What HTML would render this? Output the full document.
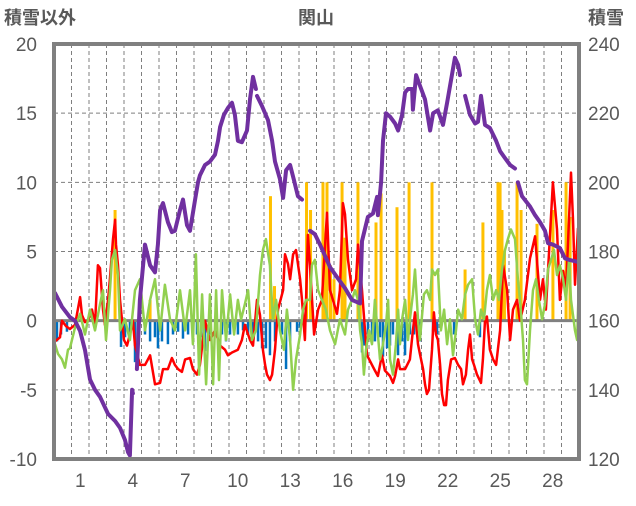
<!DOCTYPE html>
<html><head><meta charset="utf-8">
<style>
html,body{margin:0;padding:0;background:#fff;}
body{width:636px;height:501px;overflow:hidden;font-family:"Liberation Sans","Noto Sans CJK JP",sans-serif;}
svg text{font-family:"Liberation Sans","Noto Sans CJK JP",sans-serif;fill:#595959;}
</style></head>
<body>
<svg id="chart" width="636" height="501" xmlns="http://www.w3.org/2000/svg">
<text x="4" y="24" font-size="18" font-weight="bold">積雪以外</text>
<text x="316" y="24" font-size="18" font-weight="bold" text-anchor="middle">関山</text>
<text x="588" y="24" font-size="18" font-weight="bold">積雪</text>
<g id="grid"></g><g id="bars"></g><g id="lines"></g><g id="axes"></g>
</svg>
<script>
const leftTicks=[-10,-5,0,5,10,15,20];
const rightTicks=[120,140,160,180,200,220,240];
const dayLabels=[1,4,7,10,13,16,19,22,25,28];
const depthT=[0,.06,.46,.91,1.2,1.49,1.77,2.06,2.34,2.63,3.09,3.49,3.77,4.06,4.23,4.34,4.46,4.51,null,4.74,4.91,5.2,5.49,5.77,5.94,6.06,6.23,6.51,6.74,6.91,7.2,7.37,7.6,7.77,8.06,8.23,8.34,8.63,8.91,9.2,9.37,9.49,9.71,9.94,10.17,10.34,10.51,10.74,11.03,11.2,11.37,11.54,null,11.6,11.89,12.23,12.46,12.63,12.91,13.09,13.26,13.49,13.71,13.94,14.17,null,14.63,14.91,15.2,15.77,16.17,16.63,17.03,17.49,17.6,17.94,18.23,18.46,18.51,18.69,18.8,18.97,19.2,19.49,19.66,19.89,20.06,20.23,20.46,20.51,20.69,20.91,21.2,21.49,21.66,21.94,22.23,22.46,22.74,22.91,23.09,23.2,null,23.49,23.77,24.06,24.23,24.4,24.63,24.91,25.26,25.49,25.77,26.06,26.34,null,26.51,26.74,27.2,27.49,27.77,28.06,28.23,28.51,28.91,29.2,29.49,29.94];
const depthV=[166,168,164,161,160,157,151.5,143,140,138,133,131,129,125.5,122,121,140,139,null,146,166,182,176,174,182,192,194,188.5,185.6,186,192,195,187.6,186,195,200,202,205,206,208,212,216,219.5,221.5,223,219.5,212,211.6,215,224,230.5,227,null,225,222,218,212,206,201,195.5,203.5,205,200.7,196,195,null,186,185,182,175.5,172.6,169.4,166,165,183,190,191,195.8,190.5,200,212,220,219,217,215,219.5,226,227,227,221,231,228,224,215,220,220.8,216.6,223,231,236,234,231,null,225,219.5,217,217.5,225,216.6,215.7,212,209,207,205,204,null,200,196,193,190.5,188.5,186,182.4,182,181,178,177.5,177];
const tempT=[.06,.34,.46,.69,.91,1.2,1.49,1.6,1.77,1.94,2.17,2.34,2.51,2.63,2.8,2.91,3.09,3.2,3.37,3.49,3.54,3.66,3.77,4.0,4.17,4.34,4.51,4.63,4.91,5.2,5.49,5.77,6.06,6.23,6.51,6.74,6.91,7.09,7.31,7.49,7.77,7.94,8.17,8.34,8.51,8.63,8.91,9.2,9.49,9.77,9.94,10.17,10.51,10.74,10.91,11.2,11.37,11.6,11.77,11.94,12.06,12.17,12.34,12.46,12.63,12.8,13.09,13.2,13.37,13.49,13.66,13.83,14.06,14.17,14.34,14.51,14.63,14.86,15.09,15.31,15.6,15.77,15.94,16.17,16.34,16.51,16.63,16.8,17.03,17.26,17.37,17.6,17.77,17.89,18.17,18.34,18.51,18.74,18.91,19.2,19.37,19.49,19.66,19.77,20.06,20.34,20.51,20.63,20.8,20.91,21.09,21.2,21.31,21.43,21.6,21.71,21.83,21.94,22.06,22.17,22.29,22.4,22.51,22.69,22.91,23.09,23.26,23.37,23.54,23.66,23.77,23.89,24.0,24.17,24.4,24.51,24.63,24.74,24.91,25.09,25.26,25.49,25.66,25.89,26.06,26.23,26.46,26.63,26.91,27.2,27.49,27.77,27.94,28.11,28.23,28.51,28.74,28.91,29.09,29.26,29.54,29.66,29.77,29.94];
const tempV=[-1.5,-1.2,0,-0.4,-0.6,-0.3,1.7,0.4,-0.1,0,0.8,-0.3,4.0,3.8,0.8,-0.3,1.5,3.1,5.9,7.3,5.5,4.0,1.5,-1.4,-1.8,-1.0,0,-1.8,-3.2,-3.2,-2.5,-4.6,-4.5,-3.5,-3.5,-2.7,-3.2,-3.5,-3.7,-2.8,-2.7,-3.5,-3.9,-3.2,-1.4,0,-1.4,-0.7,-1.8,-2.1,-2.5,-2.3,-2.1,-1.4,-0.3,-1.4,-1.8,1.5,0.4,-2.1,-3.2,-3.9,-4.3,-3.9,-2.1,0.8,2.2,4.8,4.1,3.0,4.8,5.1,3.0,1.5,-1.4,6.2,4,-1.0,0.8,1.5,7.8,2.2,1.5,0.5,2.2,8.5,7.7,4.4,2.2,3,5.5,2.2,-0.7,-2.5,-3.2,-3.6,-4.0,-2.5,-3.6,-4.0,-4.5,-4.0,-2.8,-3.5,-3.5,-2.8,-0.7,0.6,-1.7,-2.4,-3.5,-4.6,-5.3,-5.0,-2.1,0.6,-1.0,-1.4,-3.2,-5.3,-6.1,-6.1,-4.3,-2.8,-2.7,-3.2,-3.5,-4.6,-3.9,-2.1,-1.0,-2.8,-3.2,-3.9,-4.5,-2.8,0,0.3,-2.1,-2.8,-3.2,-0.7,4.0,2.2,-1.4,0.8,1.5,0,1.5,4.5,6.1,1.5,3.0,0.8,3.6,10.0,6.6,1.5,3.6,2.2,10.7,7.3,2.6,6.7];
const greenT=[.06,.23,.46,.63,.8,.91,1.2,1.49,1.77,2.06,2.34,2.63,2.8,2.97,3.2,3.31,3.49,3.66,3.77,4.06,4.34,4.63,4.91,5.2,5.49,5.77,6.06,6.34,6.63,6.91,7.2,7.49,7.77,7.94,8.11,8.29,8.46,8.69,8.91,9.09,9.26,9.43,9.6,9.83,10.06,10.29,10.51,10.69,10.91,11.09,11.31,11.54,11.77,11.94,12.11,12.34,12.51,12.69,12.91,13.14,13.31,13.49,13.66,13.83,14.06,14.23,14.4,14.63,14.74,14.91,15.09,15.31,15.54,15.77,16.06,16.34,16.63,16.8,17.03,17.2,17.37,17.49,17.6,17.71,17.83,18.0,18.17,18.34,18.51,18.63,18.8,18.97,19.09,19.2,19.37,19.54,19.66,19.77,19.89,20.06,20.23,20.34,20.51,20.63,20.8,20.91,21.14,21.31,21.49,21.6,21.77,21.94,22.11,22.29,22.46,22.63,22.8,22.97,23.09,23.31,23.49,23.66,23.89,24.06,24.23,24.4,24.57,24.74,24.91,25.09,25.26,25.43,25.6,25.77,25.94,26.11,26.34,26.51,26.63,26.8,26.91,27.03,27.2,27.37,27.54,27.71,27.89,28.06,28.23,28.4,28.57,28.74,28.91,29.09,29.26,29.43,29.54,29.77,29.89,30.0];
const greenV=[-1.7,-2.4,-2.8,-3.4,-2.1,-2.0,-0.5,0.5,-1.0,0.8,-0.7,1.2,2.2,-1.4,2.2,4.4,5.1,3.3,-0.7,0.1,-1.4,2.2,3.0,-0.7,1.5,3.0,-0.7,2.6,0.1,-0.7,2.2,-0.7,2.2,-1.7,4.8,-3.9,1.9,-4.6,1.9,-4.6,2.2,-4.3,2.2,-1.4,1.9,-1.0,1.5,0.1,1.2,2.2,-1.4,-0.7,3.3,5.1,5.9,4.0,0.1,1.5,-0.7,-2.1,0.8,-1.4,-5.0,-2.8,-1.0,0.8,1.5,1.5,4.0,4.4,2.2,1.5,0.8,-0.7,-1.7,0.1,-1.0,0.8,1.5,2.2,1.5,-0.7,-1.7,-3.9,-2.1,-0.7,-1.7,1.5,-1.0,-2.8,-1.7,-0.3,1.5,-2.8,-3.9,-1.7,0.8,-1.7,0.1,1.5,-1.4,0.1,1.9,3.7,0.1,-1.4,1.9,2.2,1.5,3.7,3.3,3.7,-0.7,0.8,-1.7,0.1,-2.5,-0.7,0.8,0.1,1.9,2.6,3.0,0.1,-1.0,0.8,0.1,2.2,3.3,1.5,2.2,1.5,3.7,5.1,5.9,6.6,5.9,3.0,1.5,-1.4,-4.3,-4.6,-0.7,2.2,3.0,1.5,0.1,1.2,3.7,4.4,5.1,3.3,4.0,3.0,1.5,4.4,1.5,-0.7,-1.4,3.0];
const snowfallT=[3.49,5.49,12.37,12.6,14.43,14.66,15.37,15.49,15.6,15.8,16.0,16.46,16.63,17.37,17.5,18.4,18.69,19.6,20.29,21.6,23.49,24.51,25.37,25.49,25.6,25.74,26.46,26.69,27.6,28.51,29.26,29.49];
const snowfallV=[8.0,1.5,9.0,2.5,10,8,10,6,10,4,3,10,6,10,5,7.1,9.2,8.2,10,10,3.7,7.1,10,10,8,5,10,8,7,8,10,7.5];
const meltT=[0,.17,.4,.74,3.83,4.06,4.34,4.63,4.8,5.2,5.49,5.77,5.94,6.17,6.51,6.8,7.09,7.37,7.66,7.94,8.17,8.4,8.63,8.91,9.6,9.83,10.06,10.51,10.8,11.09,11.37,11.66,11.89,12.11,12.34,12.63,13.03,13.26,13.49,13.89,14.06,17.6,17.71,17.94,18.17,18.34,18.63,18.8,19.03,19.2,19.37,19.66,19.89,20.06,20.34,20.57,20.91,21.66,21.89,22.63,22.86,24.34];
const meltV=[-1,-1.5,-1,-0.8,-1.9,-1.2,-1,-3,-2,-1,-1.5,-1.2,-2,-1.5,-1.7,-1,-0.8,-1.3,-1,-0.8,-1,-1.2,-2.2,-1,-1,-1.5,-1,-1,-0.7,-1,-1.4,-1.5,-2,-2,-2.5,-1.5,-1,-3.5,-1.5,-0.8,-0.5,-2.3,-1.8,-1,-1.5,-1.5,-1.2,-2.6,-2,-1.8,-1,-2.5,-1.5,-2.5,-1,-1,-1.5,-0.8,-1,-0.5,-1,-1.2];

const NS="http://www.w3.org/2000/svg";
const X0=54,X1=579,Y0=44,Y1=459;
const xS=t=>X0+t*(X1-X0)/30;
const yL=v=>Y1-(v+10)*(Y1-Y0)/30;
const yR=v=>Y1-(v-120)*(Y1-Y0)/120;
function mk(tag,attrs,parent){const e=document.createElementNS(NS,tag);for(const k in attrs)e.setAttribute(k,attrs[k]);parent.appendChild(e);return e;}
const grid=document.getElementById('grid'),bars=document.getElementById('bars'),lines=document.getElementById('lines'),axes=document.getElementById('axes');
for(let k=1;k<30;k++){const l=mk('line',{x1:xS(k),x2:xS(k),y1:Y0,y2:Y1,stroke:'#7f7f7f','stroke-width':1,'stroke-dasharray':'4,3'},grid);

}
leftTicks.forEach(v=>{if(v!==0&&v!==20&&v!==-10){const l=mk('line',{x1:X0,x2:X1,y1:yL(v),y2:yL(v),stroke:'#7f7f7f','stroke-width':1,'stroke-dasharray':'4,3'},grid);

}});
snowfallT.forEach((t,i)=>{const r=mk('rect',{x:xS(t)-1.5,y:yL(snowfallV[i]),width:3,height:yL(0)-yL(snowfallV[i]),fill:'#FFC000'},bars);

});
meltT.forEach((t,i)=>{const r=mk('rect',{x:xS(t)-1.25,y:yL(0),width:2.5,height:yL(meltV[i])-yL(0),fill:'#0070C0'},bars);

});
function path(T,V,ys){let d='',pen=false;T.forEach((t,i)=>{if(t===null||V[i]===null){pen=false;return;}d+=(pen?'L':'M')+xS(t).toFixed(1)+','+ys(V[i]).toFixed(1);pen=true;});return d;}
const zl=mk('line',{x1:X0,x2:X1,y1:yL(0),y2:yL(0),stroke:'#808080','stroke-width':3},lines);


const pr=mk('path',{d:path(tempT,tempV,yL),fill:'none',stroke:'#FF0000','stroke-width':2.5,'stroke-linejoin':'round'},lines);


const pg=mk('path',{d:path(greenT,greenV,yL),fill:'none',stroke:'#92D050','stroke-width':2.5,'stroke-linejoin':'round'},lines);


const pp=mk('path',{d:path(depthT,depthV,yR),fill:'none',stroke:'#7030A0','stroke-width':4,'stroke-linejoin':'round','stroke-linecap':'round'},lines);


const bd=mk('rect',{x:X0,y:Y0,width:X1-X0,height:Y1-Y0,fill:'none',stroke:'#808080','stroke-width':4},axes);


leftTicks.forEach(v=>{const t=mk('text',{x:37,y:yL(v)+7,'font-size':19,'text-anchor':'end'},axes);t.textContent=v;

});
rightTicks.forEach(v=>{const t=mk('text',{x:588,y:yR(v)+7,'font-size':19},axes);t.textContent=v;

});
dayLabels.forEach(d=>{const t=mk('text',{x:xS(d+0.5),y:487,'font-size':19,'text-anchor':'middle'},axes);t.textContent=d;

});
</script>
</body></html>
